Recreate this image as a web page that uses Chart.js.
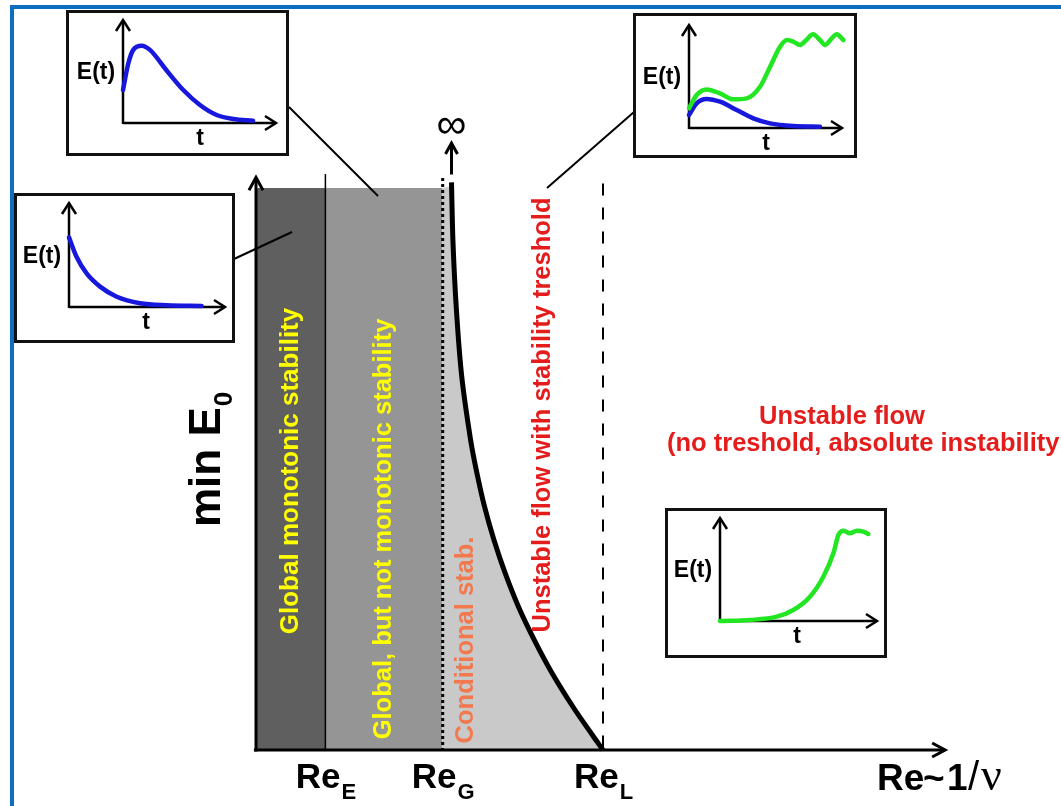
<!DOCTYPE html>
<html><head><meta charset="utf-8">
<script src="https://cdn.jsdelivr.net/npm/chart.js@4.4.0/dist/chart.umd.min.js"></script>
<style>
html,body{margin:0;padding:0;background:#fff;width:1061px;height:806px;overflow:hidden;position:relative;}
#frame{position:absolute;left:10px;top:5px;width:1100px;height:900px;border-top:4px solid #0b6fc1;border-left:4px solid #0b6fc1;}
#main{position:absolute;left:0;top:0;}
.inset{position:absolute;border:3px solid #111;background:#fff;box-sizing:border-box;}
.inset canvas{position:absolute;left:0;top:0;}
</style></head><body>
<div id="frame"></div>
<canvas id="main" width="1061" height="806" style="width:1061px;height:806px"></canvas>
<script>
// ---- main diagram data ----
const regionTop = 100;
const ReE = 10, ReG = 26.9, ReL = 50;
const thresholdX = [28.17, 28.39, 28.88, 29.65, 30.92, 31.83, 32.95, 34.28, 35.89, 37.85, 40.09, 42.65, 45.69, 48.47, 50.0];
const thresholdY = [101, 90.2, 78.3, 66.4, 55.2, 49.3, 43.2, 37.4, 31.5, 25.4, 19.6, 13.7, 7.65, 2.67, 0];
const reLabelMain = ['Re', 'Re', 'Re'];
const reLabelSub = ['E', 'G', 'L'];
const reLabelAt = [ReE, ReG, ReL];

// ---- inset data ----
const inset1T = [0, 0.35, 0.67, 1.22, 1.76, 2.85, 3.94, 5.03, 6.12, 7.2, 8.5];
const inset1E = [3.2, 5.8, 7.1, 7.5, 7.1, 5.1, 3.2, 1.75, 0.78, 0.39, 0.22];
const inset2T = [0, 0.49, 1.14, 1.99, 3.06, 4.55, 6.26, 8.5];
const inset2E = [6.7, 4.8, 3.2, 1.96, 0.99, 0.36, 0.16, 0.1];
const inset3T = [0, 0.5, 1.15, 2.03, 3.12, 4.2, 5.3, 6.8, 8.56];
const inset3Blue = [1.26, 2.4, 2.82, 2.55, 1.75, 0.94, 0.45, 0.19, 0.13];
const inset3GreenT = [0, 0.5, 1.15, 2.03, 2.9, 3.77, 4.64, 5.3, 5.95, 6.4, 6.82, 7.25, 7.7, 8.1, 8.56, 8.89, 9.33, 9.65, 10.09];
const inset3Green = [1.91, 3.2, 3.75, 3.36, 2.78, 2.88, 4.0, 5.95, 7.9, 8.54, 8.38, 8.06, 8.6, 9.1, 8.54, 8.06, 8.7, 9.1, 8.54];
const inset4T = [0, 1.91, 3.61, 4.67, 5.73, 6.58, 7.22, 7.54, 7.86, 8.28, 8.71, 9.13, 9.45];
const inset4Green = [0, 0.1, 0.42, 1.07, 2.36, 4.3, 6.57, 8.35, 8.77, 8.51, 8.77, 8.67, 8.45];

const pts = (xs, ys) => xs.map((x, i) => ({x: x, y: ys[i]}));
const FONT = '"Liberation Sans", Arial, sans-serif';

function head(ctx, tx, ty, ang, len, half) {
  const dx = Math.cos(ang), dy = Math.sin(ang);
  const px = -dy, py = dx;
  ctx.beginPath();
  ctx.moveTo(tx - len * dx + half * px, ty - len * dy + half * py);
  ctx.lineTo(tx, ty);
  ctx.lineTo(tx - len * dx - half * px, ty - len * dy - half * py);
  ctx.stroke();
}
function seg(ctx, x1, y1, x2, y2) { ctx.beginPath(); ctx.moveTo(x1, y1); ctx.lineTo(x2, y2); ctx.stroke(); }
function vText(ctx, text, x, y, font, color) {
  ctx.save(); ctx.translate(x, y); ctx.rotate(-Math.PI / 2);
  ctx.font = font; ctx.fillStyle = color; ctx.textAlign = 'center'; ctx.textBaseline = 'middle';
  ctx.fillText(text, 0, 0); ctx.restore();
}

const mainPlugin = {
  id: 'mainAnnot',
  afterDatasetsDraw(chart) {
    const ctx = chart.ctx, xs = chart.scales.x, ys = chart.scales.y;
    const X = v => xs.getPixelForValue(v), Y = v => ys.getPixelForValue(v);
    ctx.save();
    ctx.strokeStyle = '#000'; ctx.lineJoin = 'miter'; ctx.lineCap = 'butt';
    // axes
    ctx.lineWidth = 3;
    seg(ctx, X(0), Y(0) + 1.5, X(0), Y(101.9));
    head(ctx, X(0), Y(101.9), -Math.PI / 2, 13, 7);
    seg(ctx, X(-0.3), Y(0), X(99.3), Y(0));
    head(ctx, X(99.3), Y(0), 0, 13, 7);
    // arrow to infinity
    head(ctx, X(thresholdX[0]), Y(108), -Math.PI / 2, 11, 6);
    ctx.font = '42px ' + FONT; ctx.fillStyle = '#000'; ctx.textAlign = 'center'; ctx.textBaseline = 'middle';
    ctx.fillText('∞', X(thresholdX[0]), Y(110.9));
    // connector lines to insets
    ctx.lineWidth = 2;
    seg(ctx, 289, 107, 378, 196);
    seg(ctx, 234, 259, 292, 232);
    seg(ctx, 634, 112, 547, 188);
    // region labels
    const b25 = 'bold 25.5px ' + FONT;
    vText(ctx, 'Global monotonic stability', 291, 471, 'bold 26px ' + FONT, '#ffff00');
    vText(ctx, 'Global, but not monotonic stability', 384, 529, b25, '#ffff00');
    vText(ctx, 'Conditional stab.', 466, 640, b25, '#f2794e');
    vText(ctx, 'Unstable flow with stability treshold', 543, 415, b25, '#e41c1c');
    ctx.font = b25; ctx.fillStyle = '#e41c1c'; ctx.textBaseline = 'alphabetic';
    ctx.textAlign = 'center'; ctx.fillText('Unstable flow', 842, 424);
    ctx.textAlign = 'left'; ctx.fillText('(no treshold, absolute instability', 667, 451);
    // y label
    ctx.save(); ctx.translate(220, 527); ctx.rotate(-Math.PI / 2);
    ctx.fillStyle = '#000'; ctx.textAlign = 'left'; ctx.textBaseline = 'alphabetic';
    ctx.font = 'bold 44px ' + FONT; ctx.fillText('min E', 0, 0);
    const wmin = ctx.measureText('min E').width;
    ctx.font = 'bold 26px ' + FONT; ctx.fillText('0', wmin + 1, 12);
    ctx.restore();
    // x labels
    ctx.fillStyle = '#000'; ctx.textAlign = 'left'; ctx.textBaseline = 'alphabetic';
    for (let i = 0; i < reLabelMain.length; i++) {
      ctx.font = 'bold 35px ' + FONT; const w1 = ctx.measureText(reLabelMain[i]).width;
      ctx.font = 'bold 22px ' + FONT; const w2 = ctx.measureText(reLabelSub[i]).width;
      const sx = X(reLabelAt[i]) - (w1 + w2) / 2;
      ctx.font = 'bold 35px ' + FONT; ctx.fillText(reLabelMain[i], sx, 788);
      ctx.font = 'bold 22px ' + FONT; ctx.fillText(reLabelSub[i], sx + w1 + 1, 799);
    }
    ctx.font = 'bold 37px ' + FONT;
    ctx.fillText('Re', 877, 790);
    ctx.fillText('~', 923, 790);
    ctx.fillText('1', 947, 790);
    ctx.font = '40px ' + FONT; ctx.fillText('/', 968, 790);
    ctx.font = '46px "Liberation Serif", serif'; ctx.fillText('ν', 981, 790);
    ctx.restore();
  }
};

const lineDs = (data, extra) => Object.assign({data: data, pointRadius: 0, borderWidth: 0, fill: false, clip: false}, extra);

new Chart(document.getElementById('main'), {
  type: 'line',
  data: {
    datasets: [
      lineDs(pts([ReE, ReE], [0, 102.5]), {borderColor: '#000', borderWidth: 1.5, order: 1}),
      lineDs(pts([ReG, ReG], [101.8, 0]), {borderColor: '#000', borderWidth: 3, borderDash: [3, 3], order: 1}),
      lineDs(pts([ReL, ReL], [100.8, 0]), {borderColor: '#000', borderWidth: 2, borderDash: [12, 12], order: 1}),
      lineDs(pts([thresholdX[0], thresholdX[0]], [102.4, 107.6]), {borderColor: '#000', borderWidth: 3, order: 1}),
      lineDs(pts(thresholdX, thresholdY), {borderColor: '#000', borderWidth: 5, tension: 0.35, order: 2}),
      lineDs([{x: ReG, y: regionTop}, {x: thresholdX[0], y: regionTop}].concat(pts(thresholdX.slice(1), thresholdY.slice(1))),
        {backgroundColor: '#c9c9c9', fill: 'origin', tension: 0.35, order: 5}),
      lineDs(pts([ReE, ReG], [regionTop, regionTop]), {backgroundColor: '#959595', fill: 'origin', order: 5}),
      lineDs(pts([0, ReE], [regionTop, regionTop]), {backgroundColor: '#5f5f5f', fill: 'origin', order: 5})
    ]
  },
  options: {
    responsive: false, animation: false, devicePixelRatio: 1,
    layout: {padding: {left: 256, right: 111, top: 75.6, bottom: 56}},
    scales: {
      x: {type: 'linear', min: 0, max: 100, display: false},
      y: {type: 'linear', min: 0, max: 120, display: false}
    },
    plugins: {legend: {display: false}, tooltip: {enabled: false}}
  },
  plugins: [mainPlugin]
});

// ---- insets ----
const insetAxes = {
  id: 'insetAxes',
  beforeDatasetsDraw(chart) {
    const ctx = chart.ctx, a = chart.chartArea;
    ctx.save();
    ctx.strokeStyle = '#000'; ctx.lineWidth = 2.5;
    seg(ctx, a.left, a.bottom + 1, a.left, a.top);
    head(ctx, a.left, a.top, -Math.PI / 2, 11, 7);
    seg(ctx, a.left, a.bottom, a.right, a.bottom);
    head(ctx, a.right, a.bottom, 0, 11, 7);
    ctx.fillStyle = '#000'; ctx.font = 'bold 23px ' + FONT;
    ctx.textAlign = 'center'; ctx.textBaseline = 'middle';
    ctx.fillText('E(t)', a.left - 27, a.bottom - 50);
    ctx.fillText('t', a.left + 77, a.bottom + 16);
    ctx.restore();
  }
};

function makeInset(box, origin, tip, series) {
  const div = document.createElement('div');
  div.className = 'inset';
  div.style.left = box[0] + 'px'; div.style.top = box[1] + 'px';
  div.style.width = box[2] + 'px'; div.style.height = box[3] + 'px';
  const cw = box[2] - 6, ch = box[3] - 6;
  const cv = document.createElement('canvas');
  cv.width = cw; cv.height = ch; cv.style.width = cw + 'px'; cv.style.height = ch + 'px';
  div.appendChild(cv); document.body.appendChild(div);
  const cl = box[0] + 3, ct = box[1] + 3;
  new Chart(cv, {
    type: 'line',
    data: {datasets: series.map(s => ({data: pts(s.t, s.e), borderColor: s.color, borderWidth: 4.5, pointRadius: 0,
      fill: false, cubicInterpolationMode: 'monotone', clip: false, borderCapStyle: 'round'}))},
    options: {
      responsive: false, animation: false, devicePixelRatio: 1,
      layout: {padding: {left: origin[0] - cl, right: cl + cw - tip[0], top: tip[1] - ct, bottom: ct + ch - origin[1]}},
      scales: {x: {type: 'linear', min: 0, max: 10, display: false}, y: {type: 'linear', min: 0, max: 10, display: false}},
      plugins: {legend: {display: false}, tooltip: {enabled: false}}
    },
    plugins: [insetAxes]
  });
}
const BLUE = '#1818dc', GREEN = '#22e622';
makeInset([66, 10, 223, 146], [123, 123], [276, 20], [{t: inset1T, e: inset1E, color: BLUE}]);
makeInset([14, 193, 221, 150], [69, 307], [225, 203], [{t: inset2T, e: inset2E, color: BLUE}]);
makeInset([633, 13, 224, 145], [689, 128], [842, 25], [{t: inset3GreenT, e: inset3Green, color: GREEN}, {t: inset3T, e: inset3Blue, color: BLUE}]);
makeInset([665, 508, 222, 150], [720, 621], [877, 518], [{t: inset4T, e: inset4Green, color: GREEN}]);
</script>
</body></html>
